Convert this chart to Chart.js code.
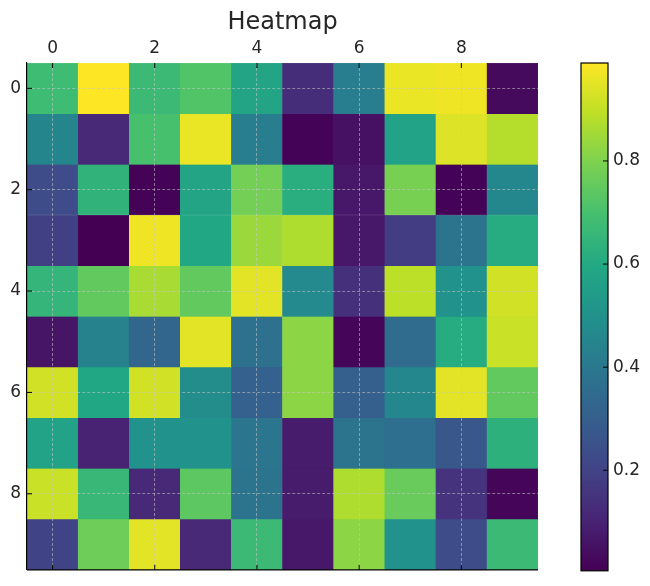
<!DOCTYPE html>
<html>
<head>
<meta charset="utf-8">
<script src="https://cdn.jsdelivr.net/npm/chart.js@4.4.1/dist/chart.umd.min.js"></script>
<style>
  body { margin: 0; background: #fff; }
  #wrap { position: relative; width: 650px; height: 586px; }
  #heatmap { position: absolute; left: 0; top: 0; }
  #barra { position: absolute; left: 560px; top: 0; }
</style>
</head>
<body>
<div id="wrap">
  <canvas id="heatmap" width="650" height="586"></canvas>
  <canvas id="barra" width="90" height="586"></canvas>
</div>
<script>
// Dados do heatmap (linha = y, coluna = x)
const linhas = [0, 1, 2, 3, 4, 5, 6, 7, 8, 9];
const colunas = [0, 1, 2, 3, 4, 5, 6, 7, 8, 9];
const valores = [
    [0.68, 0.99, 0.67, 0.72, 0.58, 0.13, 0.42, 0.96, 0.97, 0.03],
    [0.45, 0.12, 0.70, 0.96, 0.42, 0.01, 0.05, 0.57, 0.94, 0.88],
    [0.23, 0.64, 0.01, 0.58, 0.78, 0.62, 0.07, 0.79, 0.01, 0.46],
    [0.19, 0.005, 0.97, 0.59, 0.84, 0.87, 0.07, 0.18, 0.38, 0.61],
    [0.65, 0.75, 0.86, 0.75, 0.95, 0.47, 0.14, 0.89, 0.50, 0.92],
    [0.06, 0.44, 0.33, 0.95, 0.37, 0.82, 0.02, 0.35, 0.61, 0.91],
    [0.92, 0.59, 0.92, 0.48, 0.31, 0.82, 0.30, 0.46, 0.95, 0.75],
    [0.57, 0.10, 0.50, 0.50, 0.39, 0.08, 0.38, 0.36, 0.27, 0.63],
    [0.91, 0.66, 0.12, 0.74, 0.38, 0.08, 0.87, 0.76, 0.15, 0.02],
    [0.20, 0.77, 0.95, 0.12, 0.67, 0.07, 0.82, 0.50, 0.23, 0.67]
];
const ticksEixo = [0, 2, 4, 6, 8];
const ticksBarra = [0.2, 0.4, 0.6, 0.8];

// Paleta viridis (11 paradas)
const viridis = ['#440154', '#482475', '#414487', '#355f8d', '#2a788e', '#21918c',
                 '#22a884', '#44bf70', '#7ad151', '#bddf26', '#fde725'];

const vmin = Math.min(...valores.flat());
const vmax = Math.max(...valores.flat());

function hexParaRgb(h) {
    return [parseInt(h.substr(1, 2), 16), parseInt(h.substr(3, 2), 16), parseInt(h.substr(5, 2), 16)];
}

function corViridis(v) {
    let t = (v - vmin) / (vmax - vmin);
    t = Math.max(0, Math.min(1, t));
    const pos = t * (viridis.length - 1);
    const i = Math.min(Math.floor(pos), viridis.length - 2);
    const f = pos - i;
    const a = hexParaRgb(viridis[i]);
    const b = hexParaRgb(viridis[i + 1]);
    const c = a.map((x, k) => Math.round(x + (b[k] - x) * f));
    return `rgb(${c[0]}, ${c[1]}, ${c[2]})`;
}

const fonteTicks = { family: 'DejaVu Sans', size: 17 };
const corTexto = '#262626';

// Marcas de tick para dentro + linha inferior
const marcasInternas = {
    id: 'marcasInternas',
    afterDraw(chart) {
        const { ctx, chartArea, scales } = chart;
        ctx.save();
        ctx.strokeStyle = '#000';
        ctx.lineWidth = 1.2;
        ctx.beginPath();
        ctx.moveTo(chartArea.left, chartArea.bottom);
        ctx.lineTo(chartArea.right, chartArea.bottom);
        ctx.stroke();
        ctx.lineWidth = 1;
        ticksEixo.forEach(t => {
            const x = scales.x.getPixelForValue(t);
            ctx.beginPath();
            ctx.moveTo(x, chartArea.top);
            ctx.lineTo(x, chartArea.top + 5);
            ctx.moveTo(x, chartArea.bottom);
            ctx.lineTo(x, chartArea.bottom - 5);
            ctx.stroke();
            const y = scales.y.getPixelForValue(t);
            ctx.beginPath();
            ctx.moveTo(chartArea.left, y);
            ctx.lineTo(chartArea.left + 5, y);
            ctx.stroke();
        });
        ctx.restore();
    }
};

const conjuntos = linhas.map(r => ({
    label: 'linha ' + r,
    data: colunas.map(c => ({ x: c, y: [r - 0.5, r + 0.5] })),
    backgroundColor: colunas.map(c => corViridis(valores[r][c])),
    borderColor: colunas.map(c => corViridis(valores[r][c])),
    borderWidth: 0.5,
    borderSkipped: false,
    grouped: false,
    barPercentage: 1,
    categoryPercentage: 1
}));

const estiloGrade = {
    color: 'rgba(200, 200, 200, 0.7)',
    lineWidth: 0.8,
    drawTicks: false,
    z: 1
};

new Chart(document.getElementById('heatmap'), {
    type: 'bar',
    data: { datasets: conjuntos },
    options: {
        responsive: false,
        animation: false,
        layout: { padding: { left: 0, right: 112, top: 0, bottom: 13 } },
        plugins: {
            legend: { display: false },
            tooltip: { enabled: false },
            title: {
                display: true,
                text: 'Heatmap',
                fullSize: false,
                color: corTexto,
                font: { family: 'DejaVu Sans', size: 24, weight: 'normal' },
                padding: { top: 8, bottom: 0 }
            }
        },
        scales: {
            x: {
                type: 'linear',
                position: 'top',
                min: -0.5,
                max: 9.5,
                offset: false,
                afterBuildTicks: s => { s.ticks = ticksEixo.map(v => ({ value: v })); },
                afterFit: s => { s.height = 26.2; },
                ticks: { color: corTexto, font: fonteTicks, padding: 4 },
                grid: { ...estiloGrade, offset: false },
                border: { display: false, dash: [3, 2] }
            },
            y: {
                type: 'linear',
                reverse: true,
                min: -0.5,
                max: 9.5,
                afterBuildTicks: s => { s.ticks = ticksEixo.map(v => ({ value: v })); },
                afterFit: s => { s.width = 27; },
                ticks: { color: corTexto, font: fonteTicks, padding: 6 },
                grid: estiloGrade,
                border: { display: true, color: '#000', width: 1.2, dash: [3, 2], z: 2 }
            }
        }
    },
    plugins: [marcasInternas]
});

// Barra de cores
const marcasBarra = {
    id: 'marcasBarra',
    afterDraw(chart) {
        const { ctx, chartArea, scales } = chart;
        ctx.save();
        ctx.strokeStyle = '#000';
        ctx.lineWidth = 1.2;
        ctx.strokeRect(chartArea.left, chartArea.top, chartArea.right - chartArea.left, chartArea.bottom - chartArea.top);
        ctx.lineWidth = 1;
        ticksBarra.forEach(t => {
            const y = scales.y.getPixelForValue(t);
            ctx.beginPath();
            ctx.moveTo(chartArea.right - 5, y);
            ctx.lineTo(chartArea.right, y);
            ctx.stroke();
        });
        ctx.restore();
    }
};

new Chart(document.getElementById('barra'), {
    type: 'bar',
    data: {
        labels: ['barra'],
        datasets: [{
            data: [[vmin, vmax]],
            backgroundColor: (context) => {
                const area = context.chart.chartArea;
                if (!area) return viridis[5];
                const g = context.chart.ctx.createLinearGradient(0, area.bottom, 0, area.top);
                viridis.forEach((c, i) => g.addColorStop(i / (viridis.length - 1), c));
                return g;
            },
            borderWidth: 0,
            barPercentage: 1,
            categoryPercentage: 1
        }]
    },
    options: {
        responsive: false,
        animation: false,
        layout: { padding: { left: 21, right: 0, top: 63, bottom: 13 } },
        plugins: { legend: { display: false }, tooltip: { enabled: false } },
        scales: {
            x: { display: false },
            y: {
                position: 'right',
                min: vmin,
                max: vmax,
                afterBuildTicks: s => { s.ticks = ticksBarra.map(v => ({ value: v })); },
                afterFit: s => { s.width = 42; },
                ticks: { color: corTexto, font: fonteTicks, padding: 5, callback: v => v.toFixed(1) },
                grid: { display: false, drawTicks: false },
                border: { display: false }
            }
        }
    },
    plugins: [marcasBarra]
});
</script>
</body>
</html>
